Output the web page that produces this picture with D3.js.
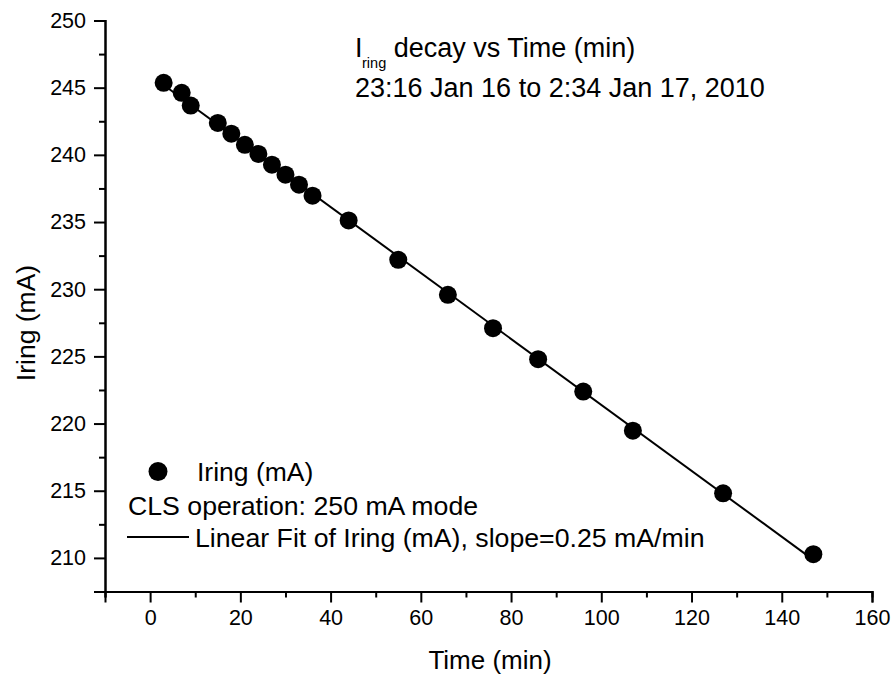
<!DOCTYPE html>
<html>
<head>
<meta charset="utf-8">
<script src="https://cdn.jsdelivr.net/npm/d3@7"></script>
<style>
  html, body { margin: 0; padding: 0; background: #fff; }
  svg { display: block; }
  text { font-family: "Liberation Sans", Arial, sans-serif; fill: #000; }
</style>
</head>
<body>
<script>
// ---- data ----
const timeMin = [3, 7, 9, 15, 18, 21, 24, 27, 30, 33, 36, 44, 55, 66, 76, 86, 96, 107, 127, 147];
const iringMA = [245.36, 244.62, 243.67, 242.38, 241.58, 240.75, 240.07, 239.27, 238.52, 237.78, 236.96,
                 235.12, 232.19, 229.58, 227.10, 224.79, 222.38, 219.47, 214.81, 210.28];
const xMajorTicks = [0, 20, 40, 60, 80, 100, 120, 140, 160];
const xMinorTicks = [-10, 10, 30, 50, 70, 90, 110, 130, 150];
const yMajorTicks = [210, 215, 220, 225, 230, 235, 240, 245, 250];
const yMinorTicks = [207.5, 212.5, 217.5, 222.5, 227.5, 232.5, 237.5, 242.5, 247.5];
const titleLines = ["decay vs Time (min)", "23:16 Jan 16 to 2:34 Jan 17, 2010"];
const legendLabels = ["Iring (mA)", "CLS operation: 250 mA mode", "Linear Fit of Iring (mA), slope=0.25 mA/min"];

const W = 893, H = 675;
const svg = d3.select("body").append("svg").attr("width", W).attr("height", H);

const x = d3.scaleLinear().domain([-10, 160]).range([105, 872]);
const y = d3.scaleLinear().domain([207.5, 250]).range([591.5, 20.5]);

const data = timeMin.map((t, i) => ({ t, v: iringMA[i] }));

// linear least squares fit
const mx = d3.mean(timeMin), my = d3.mean(iringMA);
const slope = d3.sum(data, d => (d.t - mx) * (d.v - my)) / d3.sum(data, d => (d.t - mx) ** 2);
const intercept = my - slope * mx;
const fitX = d3.extent(timeMin);

// axes
const xAxis = d3.axisBottom(x).tickValues(xMajorTicks).tickSize(11).tickPadding(7.5).tickFormat(d3.format("d"));
const xAxisMinor = d3.axisBottom(x).tickValues(xMinorTicks).tickSize(6).tickFormat("");
const yAxis = d3.axisLeft(y).tickValues(yMajorTicks).tickSize(11).tickPadding(8).tickFormat(d3.format("d"));
const yAxisMinor = d3.axisLeft(y).tickValues(yMinorTicks).tickSize(6).tickFormat("");

function style(g) {
  g.select(".domain").attr("stroke", "#000").attr("stroke-width", 2);
  g.selectAll(".tick line").attr("stroke", "#000").attr("stroke-width", 2);
  g.selectAll(".tick text").attr("font-size", 21.5).attr("font-family", "Liberation Sans, Arial, sans-serif").attr("fill", "#111");
}

svg.append("g").attr("transform", `translate(0,${y(207.5)})`).call(xAxisMinor).call(style);
svg.append("g").attr("transform", `translate(0,${y(207.5)})`).call(xAxis).call(style);
svg.append("g").attr("transform", `translate(${x(-10)},0)`).call(yAxisMinor).call(style);
svg.append("g").attr("transform", `translate(${x(-10)},0)`).call(yAxis).call(style);

// axis titles
svg.append("text").attr("x", 490).attr("y", 669)
  .attr("text-anchor", "middle").attr("font-size", 26).text("Time (min)");
svg.append("text").attr("transform", `translate(35,323) rotate(-90)`)
  .attr("text-anchor", "middle").attr("font-size", 26.5).text("Iring (mA)");

// fit line
svg.append("line")
  .attr("x1", x(fitX[0])).attr("y1", y(intercept + slope * fitX[0]))
  .attr("x2", x(fitX[1])).attr("y2", y(intercept + slope * fitX[1]))
  .attr("stroke", "#000").attr("stroke-width", 2);

// points
svg.append("g").selectAll("circle").data(data).join("circle")
  .attr("cx", d => x(d.t)).attr("cy", d => y(d.v)).attr("r", 9).attr("fill", "#000");

// title
const t1 = svg.append("text").attr("x", 355).attr("y", 57).attr("font-size", 27);
t1.append("tspan").text("I");
t1.append("tspan").attr("font-size", 14.5).attr("dy", 11).attr("dx", -0.5).text("ring");
t1.append("tspan").attr("dy", -11).text(" " + titleLines[0]);
svg.append("text").attr("x", 355).attr("y", 97).attr("font-size", 27).text(titleLines[1]);

// legend
svg.append("circle").attr("cx", 158).attr("cy", 471.5).attr("r", 9.5).attr("fill", "#000");
svg.append("text").attr("x", 197).attr("y", 481).attr("font-size", 26.5).text(legendLabels[0]);
svg.append("text").attr("x", 128).attr("y", 514.5).attr("font-size", 26.7).text(legendLabels[1]);
svg.append("line").attr("x1", 127).attr("x2", 189).attr("y1", 537).attr("y2", 537)
  .attr("stroke", "#000").attr("stroke-width", 2);
svg.append("text").attr("x", 195).attr("y", 546.5).attr("font-size", 26.7).text(legendLabels[2]);
</script>
</body>
</html>
